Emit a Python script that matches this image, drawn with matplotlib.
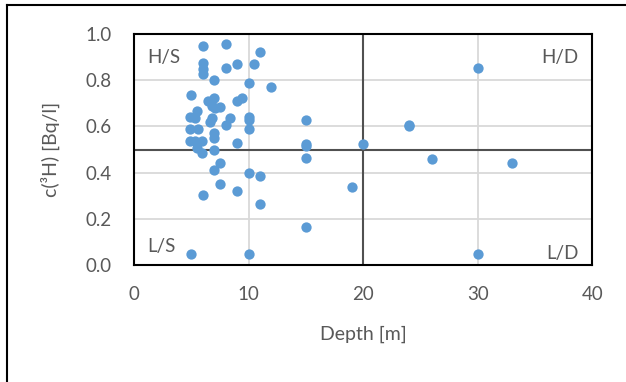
import matplotlib.pyplot as plt
from matplotlib.lines import Line2D

# depth [m] and tritium concentration [Bq/l]
depth = [6, 8, 11, 6, 6, 6, 8, 9, 10.5, 7, 10, 12,
         5, 7, 9.4, 9, 6.5, 6.8, 7.1, 7.5, 5.5, 4.9, 5.3, 6.8,
         8.4, 10, 10, 6.6, 8, 4.9, 5.6, 10, 7, 7, 4.9, 5.3,
         5.9, 9, 5.5, 5.9, 7, 7.5, 7, 10, 11, 7.5, 9, 6,
         11, 5, 10, 30, 15, 24, 24, 15, 15, 20, 15, 26,
         33, 19, 15, 30]
conc = [0.95, 0.955, 0.92, 0.875, 0.85, 0.825, 0.855, 0.87, 0.87, 0.80, 0.79, 0.77,
        0.735, 0.725, 0.725, 0.71, 0.71, 0.69, 0.68, 0.685, 0.665, 0.64, 0.635, 0.635,
        0.635, 0.64, 0.628, 0.62, 0.605, 0.59, 0.59, 0.59, 0.57, 0.55, 0.535, 0.535,
        0.535, 0.53, 0.505, 0.485, 0.50, 0.44, 0.41, 0.40, 0.385, 0.35, 0.32, 0.305,
        0.265, 0.05, 0.05, 0.855, 0.628, 0.60, 0.605, 0.515, 0.525, 0.525, 0.465, 0.46,
        0.44, 0.34, 0.165, 0.05]

x_split = 20
y_split = 0.5

plt.rcParams['font.family'] = ['Lato', 'DejaVu Sans']
grey = '#595959'

fig = plt.figure(figsize=(6.26, 3.82), dpi=100)
ax = fig.add_axes([0.214, 0.306, 0.732, 0.605])

ax.set_xlim(0, 40)
ax.set_ylim(0, 1.0)
ax.set_xticks([0, 10, 20, 30, 40])
ax.set_yticks([0, 0.2, 0.4, 0.6, 0.8, 1.0])
ax.set_yticklabels(['0.0', '0.2', '0.4', '0.6', '0.8', '1.0'])
ax.grid(True, color='#d9d9d9', linewidth=1.3)
ax.set_axisbelow(True)
ax.tick_params(length=0, labelsize=13.5, labelcolor=grey)
ax.tick_params(axis='x', pad=15)
ax.tick_params(axis='y', pad=16)

ax.axvline(x_split, color='#505050', linewidth=1.5, zorder=1)
ax.axhline(y_split, color='#505050', linewidth=1.5, zorder=1)

ax.scatter(depth, conc, s=55, color='#5b9bd5', zorder=3, linewidths=0)

for s in ax.spines.values():
    s.set_color('black')
    s.set_linewidth(1.5)

ax.text(0.03, 0.9, 'H/S', transform=ax.transAxes, fontsize=13.5, color=grey, va='center')
ax.text(0.97, 0.9, 'H/D', transform=ax.transAxes, fontsize=13.5, color=grey, va='center', ha='right')
ax.text(0.03, 0.08, 'L/S', transform=ax.transAxes, fontsize=13.5, color=grey, va='center')
ax.text(0.97, 0.05, 'L/D', transform=ax.transAxes, fontsize=13.5, color=grey, va='center', ha='right')

ax.set_xlabel('Depth [m]', fontsize=14, color=grey, labelpad=16)
ax.set_ylabel('c(³H) [Bq/l]', fontsize=14, color=grey, labelpad=18)

# outer frame (left and top edges visible)
fig.add_artist(Line2D([7 / 626, 7 / 626], [0, 1 - 5 / 382], color='black', linewidth=1.5))
fig.add_artist(Line2D([7 / 626, 1], [1 - 5 / 382, 1 - 5 / 382], color='black', linewidth=1.5))

fig.savefig('out.png', dpi=100)
